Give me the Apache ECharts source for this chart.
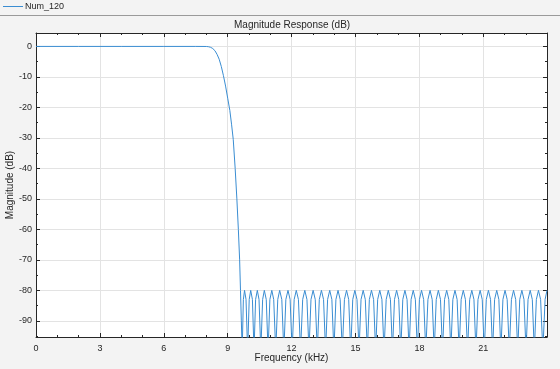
<!DOCTYPE html>
<html><head><meta charset="utf-8">
<script src="https://cdn.jsdelivr.net/npm/echarts@6/dist/echarts.min.js"></script>
<style>html,body{margin:0;padding:0;background:#f3f3f3}#c{width:560px;height:369px}</style>
</head><body><div id="c"></div><script>
const seriesName = 'Num_120';
const chartTitle = 'Magnitude Response (dB)';
const xName = 'Frequency (kHz)';
const yName = 'Magnitude (dB)';

// [frequency kHz, magnitude dB]
const passband = [[0,0],[2,0],[4,0],[6,0],[7.5,0],[8.0,-0.02]];
const transition = [
  [8.1,-0.1],[8.2,-0.3],[8.3,-0.7],[8.4,-1.4],[8.5,-2.6],[8.6,-4.2],[8.7,-6.6],
  [8.8,-9.6],[8.9,-13],[9.0,-17],[9.1,-21],[9.18,-25.5],[9.26,-30.5],[9.35,-40],
  [9.43,-50],[9.5,-60],[9.56,-70],[9.6,-80]
];
const stopband = [
  [9.64,-90],[9.68,-100],
  [9.735,-83],[9.79,-80],[9.86,-83],[9.935,-100],
  [10.01,-83],[10.08,-80],[10.16,-83],[10.235,-100],
  [10.31,-83],[10.39,-80],[10.47,-83],[10.555,-100],
  [10.64,-83],[10.72,-80],[10.81,-83],[10.895,-100],
  [10.98,-83],[11.07,-80],[11.16,-83],[11.255,-100],
  [11.35,-83],[11.44,-80],[11.54,-83],[11.635,-100],
  [11.73,-83],[11.83,-80],[11.93,-83],[12.025,-100],
  [12.12,-83],[12.22,-80],[12.32,-83],[12.42,-100],
  [12.52,-83],[12.62,-80],[12.72,-83],[12.815,-100],
  [12.91,-83],[13.01,-80],[13.11,-83],[13.205,-100],
  [13.30,-83],[13.40,-80],[13.50,-83],[13.595,-100],
  [13.69,-83],[13.79,-80],[13.89,-83],[13.985,-100],
  [14.08,-83],[14.18,-80],[14.28,-83],[14.38,-100],
  [14.48,-83],[14.58,-80],[14.68,-83],[14.775,-100],
  [14.87,-83],[14.97,-80],[15.07,-83],[15.165,-100],
  [15.26,-83],[15.36,-80],[15.46,-83],[15.555,-100],
  [15.65,-83],[15.75,-80],[15.85,-83],[15.945,-100],
  [16.04,-83],[16.14,-80],[16.24,-83],[16.34,-100],
  [16.44,-83],[16.54,-80],[16.64,-83],[16.735,-100],
  [16.83,-83],[16.93,-80],[17.03,-83],[17.125,-100],
  [17.22,-83],[17.32,-80],[17.42,-83],[17.515,-100],
  [17.61,-83],[17.71,-80],[17.81,-83],[17.905,-100],
  [18.00,-83],[18.10,-80],[18.20,-83],[18.30,-100],
  [18.40,-83],[18.50,-80],[18.60,-83],[18.695,-100],
  [18.79,-83],[18.89,-80],[18.99,-83],[19.085,-100],
  [19.18,-83],[19.28,-80],[19.38,-83],[19.475,-100],
  [19.57,-83],[19.67,-80],[19.77,-83],[19.865,-100],
  [19.96,-83],[20.06,-80],[20.16,-83],[20.26,-100],
  [20.36,-83],[20.46,-80],[20.56,-83],[20.655,-100],
  [20.75,-83],[20.85,-80],[20.95,-83],[21.045,-100],
  [21.14,-83],[21.24,-80],[21.34,-83],[21.435,-100],
  [21.53,-83],[21.63,-80],[21.73,-83],[21.825,-100],
  [21.92,-83],[22.02,-80],[22.12,-83],[22.22,-100],
  [22.32,-83],[22.42,-80],[22.52,-83],[22.615,-100],
  [22.71,-83],[22.81,-80],[22.91,-83],[23.005,-100],
  [23.10,-83],[23.20,-80],[23.30,-83],[23.395,-100],
  [23.49,-83],[23.59,-80],[23.69,-83],[23.795,-100],
  [23.90,-83],[23.99,-80]
];

const xMajor = [0,3,6,9,12,15,18,21];
const xMinor = [1,2,4,5,7,8,10,11,13,14,16,17,19,20,22,23];
const yMajor = [0,-10,-20,-30,-40,-50,-60,-70,-80,-90];
const yMinor = [-5,-15,-25,-35,-45,-55,-65,-75,-85,-95];
const xRange = [0, 23.99];
const yRange = [-95.3, 4.4];

const FONT = 'Liberation Sans, Arial, Helvetica, sans-serif';
const AX = '#262626';
const LINE = '#3a8dd2';

function baseAx(pos, range, ticks, len, showLine) {
  return {
    type:'value', position:pos, min:range[0], max:range[1],
    axisLine:{show:showLine, onZero:false, lineStyle:{color:AX, width:1}},
    axisTick:{show:true, inside:true, length:len, customValues:ticks, lineStyle:{color:AX}},
    axisLabel:{show:false, customValues:ticks},
    splitLine:{show:false}
  };
}

const xMain = baseAx('bottom', xRange, xMajor, 4, true);
Object.assign(xMain, {
  name:xName, nameLocation:'middle', nameGap:16, nameMoveOverlap:false,
  nameTextStyle:{fontSize:10, color:AX, fontFamily:FONT}
});
xMain.axisLabel = {show:true, customValues:xMajor, fontSize:9, color:AX, margin:7, fontFamily:FONT};
xMain.splitLine = {show:true, lineStyle:{color:'#e3e3e3', width:1}};

const yMain = baseAx('left', yRange, yMajor, 4, true);
Object.assign(yMain, {
  name:yName, nameLocation:'middle', nameGap:21, nameMoveOverlap:false,
  nameTextStyle:{fontSize:10, color:AX, fontFamily:FONT}
});
yMain.axisLabel = {show:true, customValues:yMajor, fontSize:9, color:AX, margin:4, fontFamily:FONT};
yMain.splitLine = {show:true, lineStyle:{color:'#e3e3e3', width:1}};

const chart = echarts.init(document.getElementById('c'), null, {renderer:'canvas'});
chart.setOption({
  animation:false,
  backgroundColor:'#f3f3f3',
  textStyle:{fontFamily:FONT},
  title:{text:chartTitle, left:229, top:15, textStyle:{fontSize:10, fontWeight:'normal', color:AX, fontFamily:FONT}},
  legend:{left:3, top:2, padding:0, itemWidth:20, itemHeight:1, itemGap:10,
          textStyle:{fontSize:9, color:AX, fontFamily:FONT, padding:[0,0,0,-3]},
          data:[{name:seriesName, icon:'path://M0,0H20V1H0Z'}]},
  graphic:[{type:'line', shape:{x1:0,y1:15.5,x2:560,y2:15.5}, style:{stroke:'#9a9a9a', lineWidth:1}, silent:true}],
  grid:{left:36, top:33, width:511, height:304, backgroundColor:'#ffffff', show:true, borderWidth:0,
        containLabel:false, outerBoundsMode:'none'},
  xAxis:[
    xMain,
    baseAx('bottom', xRange, xMinor, 2, false),
    baseAx('top', xRange, xMajor, 4, true),
    baseAx('top', xRange, xMinor, 2, false)
  ],
  yAxis:[
    yMain,
    baseAx('left', yRange, yMinor, 2, false),
    baseAx('right', yRange, yMajor, 4, true),
    baseAx('right', yRange, yMinor, 2, false)
  ],
  series:[{
    name:seriesName, type:'line', xAxisIndex:0, yAxisIndex:0,
    data: passband.concat(transition, stopband),
    symbol:'none', showSymbol:false, clip:true,
    lineStyle:{color:LINE, width:1}, itemStyle:{color:LINE}
  }]
});
</script></body></html>
